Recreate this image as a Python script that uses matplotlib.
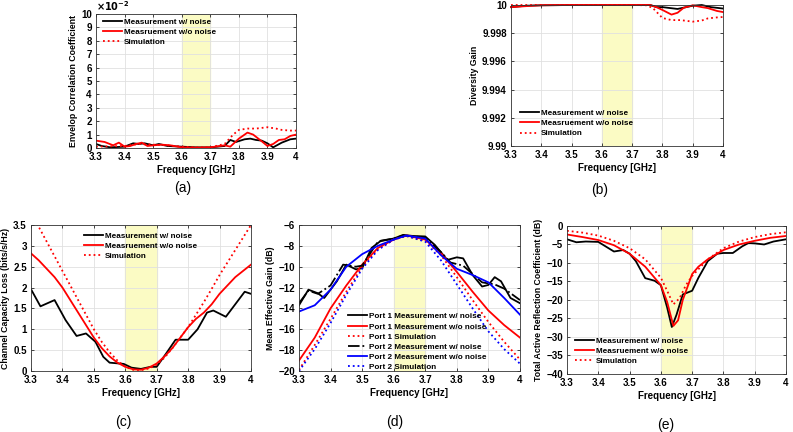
import matplotlib
matplotlib.use('Agg')
import matplotlib.pyplot as plt
import numpy as np

plt.rcParams['font.family'] = ['Liberation Sans', 'DejaVu Sans']
plt.rcParams['font.weight'] = 'bold'

# ---- (a) envelope correlation coefficient ----
fa = [3.30, 3.32, 3.35, 3.38, 3.40, 3.43, 3.45, 3.47, 3.50, 3.52, 3.55, 3.60, 3.65, 3.70, 3.75,
      3.77, 3.79, 3.82, 3.84, 3.86, 3.88, 3.90, 3.92, 3.95, 3.98, 4.00]
ecc_meas = [0.30, 0.15, 0.05, 0.08, 0.10, 0.35, 0.30, 0.35, 0.20, 0.30, 0.15, 0.10, 0.05, 0.05, 0.15,
            0.60, 0.45, 0.65, 0.70, 0.60, 0.55, 0.35, 0.05, 0.40, 0.65, 0.70]
fa2 = [3.30, 3.33, 3.36, 3.38, 3.40, 3.42, 3.44, 3.46, 3.48, 3.50, 3.53, 3.56, 3.60, 3.65, 3.70,
       3.75, 3.77, 3.80, 3.83, 3.85, 3.88, 3.90, 3.92, 3.94, 3.96, 3.98, 4.00]
ecc_meas_nn = [0.55, 0.45, 0.20, 0.40, 0.10, 0.15, 0.30, 0.40, 0.15, 0.20, 0.25, 0.20, 0.05, 0.02, 0.05,
               0.20, 0.10, 0.70, 1.15, 1.00, 0.50, 0.15, 0.30, 0.60, 0.65, 0.90, 1.00]
fa3 = [3.30, 3.40, 3.45, 3.50, 3.55, 3.60, 3.65, 3.70, 3.75, 3.78, 3.80, 3.83, 3.86, 3.90, 3.93,
       3.95, 3.98, 4.00]
ecc_sim = [0.10, 0.15, 0.30, 0.25, 0.20, 0.10, 0.05, 0.05, 0.30, 1.00, 1.35, 1.45, 1.45, 1.55, 1.45,
           1.35, 1.30, 1.30]

# ---- (b) diversity gain ----
fb = [3.30, 3.35, 3.40, 3.50, 3.60, 3.70, 3.76, 3.78, 3.80, 3.85, 3.90, 3.93, 3.96, 4.00]
dg_meas = [9.99985, 9.99995, 9.99998, 10.0, 10.0, 10.0, 10.0, 9.99985, 9.99985, 9.99972, 9.99995,
           10.0, 9.99985, 9.99975]
fb2 = [3.30, 3.35, 3.40, 3.50, 3.60, 3.70, 3.76, 3.78, 3.80, 3.83, 3.85, 3.87, 3.90, 3.93, 3.95,
       3.98, 4.00]
dg_meas_nn = [9.99985, 9.99992, 9.99998, 10.0, 10.0, 10.0, 10.0, 9.99985, 9.99965, 9.99932, 9.99945,
              9.99980, 9.99998, 9.99985, 9.99978, 9.99958, 9.99950]
fb3 = [3.30, 3.40, 3.50, 3.60, 3.70, 3.75, 3.77, 3.80, 3.83, 3.86, 3.90, 3.93, 3.95, 3.98, 4.00]
dg_sim = [10.0, 10.0, 10.0, 10.0, 10.0, 9.99998, 9.99975, 9.99908, 9.99893, 9.99893, 9.99882,
          9.99890, 9.99905, 9.99912, 9.99915]

# ---- (c) channel capacity loss ----
fc = [3.30, 3.33, 3.375, 3.41, 3.445, 3.475, 3.505, 3.53, 3.55, 3.595, 3.62, 3.65, 3.68, 3.70,
      3.73, 3.76, 3.80, 3.83, 3.86, 3.88, 3.92, 3.95, 3.98, 4.00]
ccl_meas = [1.96, 1.55, 1.70, 1.22, 0.84, 0.90, 0.70, 0.34, 0.20, 0.17, 0.08, 0.05, 0.10, 0.10,
            0.42, 0.75, 0.75, 1.00, 1.40, 1.45, 1.30, 1.60, 1.90, 1.85]
fc2 = [3.300, 3.325, 3.350, 3.375, 3.400, 3.425, 3.450, 3.475, 3.500, 3.525, 3.550, 3.575, 3.600,
       3.625, 3.650, 3.675, 3.700, 3.725, 3.750, 3.775, 3.800, 3.825, 3.850, 3.875, 3.900, 3.925,
       3.950, 3.975, 4.000]
ccl_meas_nn = [2.82, 2.65, 2.45, 2.25, 2.00, 1.70, 1.40, 1.10, 0.80, 0.55, 0.35, 0.20, 0.10, 0.04,
               0.03, 0.08, 0.18, 0.35, 0.55, 0.80, 1.05, 1.25, 1.40, 1.60, 1.85, 2.05, 2.25, 2.40, 2.55]
ccl_sim = [3.85, 3.45, 3.10, 2.75, 2.40, 2.05, 1.70, 1.35, 1.00, 0.70, 0.45, 0.25, 0.10, 0.03,
           0.02, 0.06, 0.15, 0.32, 0.55, 0.80, 1.05, 1.35, 1.65, 1.97, 2.30, 2.60, 2.90, 3.20, 3.50]

# ---- (d) mean effective gain ----
fd1 = [3.30, 3.33, 3.36, 3.38, 3.42, 3.45, 3.48, 3.50, 3.53, 3.56, 3.60, 3.63, 3.66, 3.70, 3.73,
       3.77, 3.80, 3.82, 3.85, 3.88, 3.90, 3.92, 3.94, 3.97, 4.00]
meg_p1_meas = [-13.7, -12.2, -12.55, -13.0, -11.4, -9.8, -10.25, -10.15, -8.2, -7.5, -7.3, -6.95,
               -7.05, -7.1, -7.9, -9.35, -9.1, -9.2, -10.8, -11.9, -11.75, -11.0, -11.4, -13.0, -13.5]
fd2 = [3.30, 3.33, 3.36, 3.40, 3.44, 3.48, 3.50, 3.55, 3.60, 3.63, 3.70, 3.75, 3.78, 3.82, 3.85,
       3.88, 3.92, 3.95, 4.00]
meg_p2_meas = [-13.5, -12.3, -12.6, -11.8, -9.8, -10.0, -9.9, -7.6, -7.3, -7.0, -7.2, -8.6, -9.6,
               -9.9, -10.7, -11.5, -11.7, -12.1, -13.2]
fd = [3.30, 3.35, 3.40, 3.45, 3.50, 3.55, 3.60, 3.64, 3.70, 3.75, 3.80, 3.85, 3.90, 3.95, 4.00]
meg_p1_nn = [-19.0, -16.8, -14.0, -11.8, -9.8, -8.2, -7.4, -7.0, -7.4, -8.7, -10.5, -12.4, -14.2,
             -15.6, -16.8]
meg_p2_nn = [-14.3, -13.7, -12.2, -10.0, -8.8, -8.0, -7.4, -7.0, -7.3, -8.9, -10.2, -10.8, -11.5,
             -13.0, -14.6]
meg_p1_sim = [-19.9, -17.5, -15.0, -12.4, -10.0, -8.3, -7.4, -7.05, -7.5, -8.9, -11.0, -13.2, -15.3,
              -17.2, -18.9]
meg_p2_sim = [-20.0, -17.9, -15.4, -12.7, -10.2, -8.4, -7.4, -7.05, -7.6, -9.4, -11.7, -14.0, -16.2,
              -17.9, -19.3]

# ---- (e) total active reflection coefficient ----
fe1 = [3.30, 3.33, 3.36, 3.40, 3.45, 3.48, 3.50, 3.52, 3.55, 3.58, 3.60, 3.62, 3.635, 3.65, 3.67,
       3.70, 3.72, 3.75, 3.78, 3.80, 3.83, 3.86, 3.88, 3.90, 3.93, 3.96, 4.00]
tarc_meas = [-3.6, -4.4, -4.2, -4.3, -6.9, -6.5, -7.5, -9.5, -14.1, -14.8, -16.0, -22.0, -27.3, -24.0,
             -18.5, -17.5, -14.0, -9.5, -7.5, -7.3, -7.3, -5.5, -4.6, -4.7, -5.0, -4.2, -3.6]
fe2 = [3.30, 3.35, 3.40, 3.45, 3.50, 3.55, 3.60, 3.62, 3.64, 3.655, 3.67, 3.70, 3.72, 3.75, 3.80,
       3.85, 3.90, 3.95, 4.00]
tarc_meas_nn = [-2.3, -3.0, -3.8, -5.2, -7.5, -11.0, -16.0, -20.5, -27.0, -25.5, -20.0, -13.0, -11.0,
                -9.0, -6.5, -5.0, -4.0, -3.2, -2.7]
fe3 = [3.30, 3.35, 3.40, 3.45, 3.50, 3.55, 3.60, 3.62, 3.64, 3.66, 3.68, 3.70, 3.75, 3.80, 3.85,
       3.90, 3.95, 4.00]
tarc_sim = [-1.3, -1.8, -2.6, -4.0, -6.0, -9.0, -14.0, -17.5, -21.2, -19.5, -16.0, -13.5, -9.0, -6.0,
            -4.2, -3.0, -2.2, -1.7]

freq_ticks = [3.3, 3.4, 3.5, 3.6, 3.7, 3.8, 3.9, 4.0]
freq_labels = ['3.3', '3.4', '3.5', '3.6', '3.7', '3.8', '3.9', '4']

fig = plt.figure(figsize=(7.93, 4.32), dpi=100)


def style_ax(ax, yticks, ylabel, yticklabels=None):
    ax.axvspan(3.6, 3.7, color='#fbfbc4', zorder=0)
    ax.set_xlim(3.3, 4.0)
    ax.set_xticks(freq_ticks)
    ax.set_xticklabels(freq_labels)
    ax.set_yticks(yticks)
    if yticklabels is not None:
        ax.set_yticklabels(yticklabels)
    ax.set_ylim(yticks[0], yticks[-1])
    ax.grid(True, color='#e0e0e0', lw=0.6)
    ax.set_axisbelow(True)
    ax.tick_params(direction='in', labelsize=7, length=2, width=0.5, pad=3, top=True, right=True)
    for lab in ax.get_xticklabels() + ax.get_yticklabels():
        lab.set_fontweight('bold')
    for sp in ax.spines.values():
        sp.set_color('#333333')
        sp.set_linewidth(0.6)
    ax.set_xlabel('Frequency [GHz]', fontsize=7, fontweight='bold', labelpad=2)
    ax.set_ylabel(ylabel, fontsize=6.3, fontweight='bold', labelpad=2)


leg_kw = dict(frameon=False, handlelength=2.3, handletextpad=0.25, labelspacing=0.3,
              borderpad=0, borderaxespad=0, prop={'weight': 'bold', 'size': 5.9})
labels3 = ['Measurement w/ noise', 'Measruement w/o noise', 'Simulation']

# (a)
ax = fig.add_axes([0.1211, 0.6574, 0.2522, 0.3102])
ax.plot(fa, [v * 1e-2 for v in ecc_meas], color='black', lw=1.3)
ax.plot(fa2, [v * 1e-2 for v in ecc_meas_nn], color='red', lw=1.3)
ax.plot(fa3, [v * 1e-2 for v in ecc_sim], color='red', lw=1.3, ls=':')
style_ax(ax, [i * 1e-2 for i in range(11)], 'Envelop Correlation Coefficient',
         [str(i) for i in range(11)])
ax.text(0.0, 1.01, r'$\times10^{-2}$', transform=ax.transAxes, fontsize=7, va='bottom')
ax.legend(labels3, loc='upper left', bbox_to_anchor=(0.035, 0.97), **leg_kw)
fig.text(0.231, 0.565, '(a)', fontsize=10, fontweight='normal', ha='center', va='center')

# (b)
ax = fig.add_axes([0.6444, 0.662, 0.2673, 0.3264])
ax.plot(fb, dg_meas, color='black', lw=1.3)
ax.plot(fb2, dg_meas_nn, color='red', lw=1.3)
ax.plot(fb3, dg_sim, color='red', lw=1.3, ls=':')
style_ax(ax, [9.990, 9.992, 9.994, 9.996, 9.998, 10.0], 'Diversity Gain',
         ['9.99', '9.992', '9.994', '9.996', '9.998', '10'])
for ln in ax.lines:
    ln.set_clip_on(False)
ax.legend(labels3, loc='upper left', bbox_to_anchor=(0.042, 0.26), **leg_kw)
fig.text(0.7566, 0.56, '(b)', fontsize=10, fontweight='normal', ha='center', va='center')

# (c)
ax = fig.add_axes([0.0391, 0.1412, 0.2774, 0.338])
ax.plot(fc, ccl_meas, color='black', lw=1.3)
ax.plot(fc2, ccl_meas_nn, color='red', lw=1.3)
ax.plot(fc2, ccl_sim, color='red', lw=1.3, ls=':')
style_ax(ax, [0, 0.5, 1, 1.5, 2, 2.5, 3, 3.5], 'Channel Capacity Loss (bits/s/Hz)',
         ['0', '0.5', '1', '1.5', '2', '2.5', '3', '3.5'])
ax.legend(labels3, loc='upper left', bbox_to_anchor=(0.241, 0.952), **leg_kw)
fig.text(0.155, 0.023, '(c)', fontsize=10, fontweight='normal', ha='center', va='center')

# (d)
ax = fig.add_axes([0.377, 0.1412, 0.2787, 0.338])
ax.plot(fd1, meg_p1_meas, color='black', lw=1.3, label='Port 1 Measurement w/ noise')
ax.plot(fd, meg_p1_nn, color='red', lw=1.3, label='Port 1 Measurement w/o noise')
ax.plot(fd, meg_p1_sim, color='red', lw=1.3, ls=':', label='Port 1 Simulation')
ax.plot(fd2, meg_p2_meas, color='black', lw=1.3, ls='-.', label='Port 2 Measurement w/ noise')
ax.plot(fd, meg_p2_nn, color='blue', lw=1.3, label='Port 2 Measurement w/o noise')
ax.plot(fd, meg_p2_sim, color='blue', lw=1.3, ls=':', label='Port 2 Simulation')
style_ax(ax, [-20, -18, -16, -14, -12, -10, -8, -6], 'Mean Effective Gain (dB)')
ax.legend(loc='upper left', bbox_to_anchor=(0.222, 0.40), **leg_kw)
fig.text(0.498, 0.023, '(d)', fontsize=10, fontweight='normal', ha='center', va='center')

# (e)
ax = fig.add_axes([0.715, 0.1343, 0.2762, 0.3426])
ax.plot(fe1, tarc_meas, color='black', lw=1.3)
ax.plot(fe2, tarc_meas_nn, color='red', lw=1.3)
ax.plot(fe3, tarc_sim, color='red', lw=1.3, ls=':')
style_ax(ax, [-40, -35, -30, -25, -20, -15, -10, -5, 0], 'Total Active Reflection Coefficient (dB)')
ax.legend(labels3, loc='upper left', bbox_to_anchor=(0.037, 0.25), **leg_kw)
fig.text(0.839, 0.016, '(e)', fontsize=10, fontweight='normal', ha='center', va='center')

fig.savefig('out.png', dpi=100)
